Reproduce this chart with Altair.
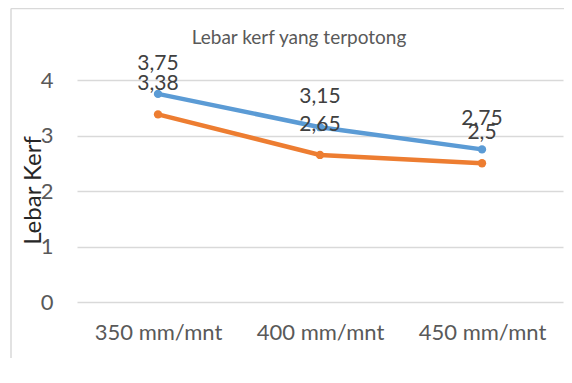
import altair as alt
import pandas as pd

categories = ["350 mm/mnt", "400 mm/mnt", "450 mm/mnt"]
series_names = ["Series1", "Series2"]
series1 = [3.75, 3.15, 2.75]
series2 = [3.38, 2.65, 2.5]
colors = ["#5B9BD5", "#ED7D31"]
y_ticks = [0, 1, 2, 3, 4]

rows = []
for name, vals in zip(series_names, [series1, series2]):
    for c, v in zip(categories, vals):
        rows.append({"cat": c, "series": name, "value": v,
                     "label": str(v).replace(".", ",")})
df = pd.DataFrame(rows)

FONT = "Lato"

x = alt.X("cat:N", sort=categories, title=None,
          axis=alt.Axis(labelAngle=0, ticks=False, domain=False, grid=False,
                        labelFontSize=22, labelColor="#595959", labelPadding=20,
                        labelFont=FONT))
y = alt.Y("value:Q", title="Lebar Kerf",
          scale=alt.Scale(domain=[0, 4], nice=False),
          axis=alt.Axis(values=y_ticks, ticks=False, domain=False, grid=True,
                        gridColor="#D9D9D9", gridWidth=1.3,
                        labelFontSize=22, labelColor="#595959", labelPadding=24,
                        labelFont=FONT, titleFont=FONT, titleFontSize=24,
                        titleFontWeight="normal", titleColor="#262626",
                        titleX=-44, titleY=110, titleBaseline="middle"))
color = alt.Color("series:N", scale=alt.Scale(domain=series_names, range=colors),
                  legend=None)

base = alt.Chart(df)
lines = base.mark_line(strokeWidth=4.5).encode(x=x, y=y, color=color)
points = base.mark_point(filled=True, size=70, opacity=1).encode(x=x, y=y, color=color)
labels = base.mark_text(fontSize=21, font=FONT, color="#404040", dy=-30,
                        baseline="middle").encode(x=x, y=y, text="label:N")

frame_left = alt.Chart(pd.DataFrame({"a": [0]})).mark_rule(color="#D9D9D9", strokeWidth=1.5).encode(
    x=alt.value(-66), y=alt.value(-71.5), y2=alt.value(400))
frame_top = alt.Chart(pd.DataFrame({"a": [0]})).mark_rule(color="#D9D9D9", strokeWidth=1.5).encode(
    x=alt.value(-66), x2=alt.value(490), y=alt.value(-71.5))

chart = alt.layer(frame_left, frame_top, lines, points, labels).properties(
    width=486, height=222,
    title=alt.TitleParams("Lebar kerf yang terpotong", font=FONT, fontSize=19,
                          color="#595959", fontWeight="normal", anchor="middle",
                          baseline="middle", dx=-21, dy=20, offset=-29),
    autosize=alt.AutoSizeParams(type="none"),
    padding={"left": 69, "top": 72, "right": 1, "bottom": 56},
).configure(background="white").configure_view(stroke=None)

chart.save("out.html", embed_options={"renderer": "svg", "actions": False})
